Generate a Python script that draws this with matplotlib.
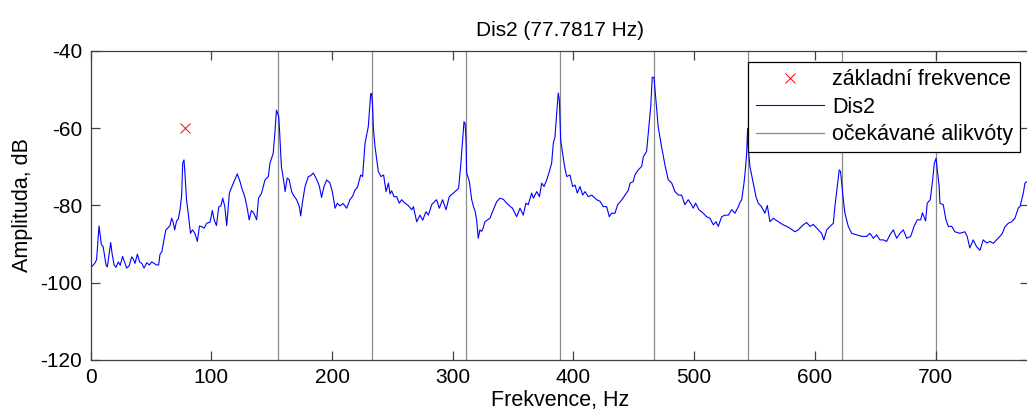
import matplotlib.pyplot as plt

plt.rcParams["font.family"] = ["Liberation Sans", "DejaVu Sans"]
plt.rcParams["axes.unicode_minus"] = False

F0 = 77.7817
HARMONICS = [2, 3, 4, 5, 6, 7, 8, 9, 10]

# spectrum of Dis2, (Hz, dB) pairs, split by band
band_0_150 = [
    (0, -96.2), (3.5, -94.9), (4.9, -94.0), (6.9, -85.3), (8.9, -90.2),
    (10.3, -90.6), (12.7, -95.4), (13.8, -95.9), (16.6, -89.6), (17.7, -92.4),
    (19.4, -95.4), (21.0, -96.0), (22.9, -94.6), (24.5, -95.5), (26.4, -93.2),
    (28.2, -94.8), (29.8, -96.2), (31.8, -95.7), (34.0, -93.3), (35.4, -93.9),
    (36.7, -95.0), (38.7, -92.6), (40.5, -94.6), (42.4, -95.0), (44.2, -96.2),
    (46.5, -94.8), (48.6, -95.4), (50.6, -94.6), (52.5, -95.0), (54.6, -95.4),
    (56.3, -95.4), (57.4, -92.7), (59.0, -91.9), (60.7, -88.9), (62.3, -86.3),
    (64.0, -85.8), (65.7, -85.2), (67.1, -83.3), (68.3, -84.3), (69.6, -86.3),
    (71.2, -84.0), (72.6, -83.5), (74.0, -81.1), (75.4, -77.3), (76.2, -69.1),
    (77.3, -68.2), (78.1, -71.6), (79.4, -78.5), (80.8, -82.0), (82.7, -87.2),
    (84.3, -86.3), (86.3, -87.2), (88.4, -89.3), (90.1, -85.3), (92.1, -85.5),
    (94.0, -85.9), (96.1, -84.6), (98.9, -84.3), (100.8, -81.3), (102.3, -83.7),
    (104.2, -85.2), (106.1, -80.4), (107.9, -80.1), (109.4, -78.1), (111.1, -80.2),
    (112.7, -85.2), (114.9, -76.8), (118.2, -74.2), (121.5, -71.8), (123.7, -73.8),
    (125.6, -75.9), (127.7, -77.7), (129.7, -80.7), (131.3, -83.7), (133.2, -81.3),
    (135.2, -82.0), (137.5, -83.7), (139.1, -78.1), (141.6, -76.8), (144.4, -73.4),
    (147.2, -72.5), (148.5, -69.1),
]
band_150_300 = [
    (151.2, -66.5), (152.6, -61.3), (153.9, -55.3), (154.9, -56.2), (155.8, -57.0),
    (156.6, -61.3), (158.0, -69.9), (160.0, -73.8), (161.1, -76.4), (162.8, -72.9),
    (164.4, -73.3), (166.5, -76.4), (167.9, -77.3), (170.6, -78.5), (172.9, -80.3),
    (174.0, -82.7), (175.6, -78.9), (177.6, -75.1), (180.3, -72.5), (182.2, -72.3),
    (184.4, -71.6), (187.2, -73.2), (189.4, -74.9), (191.3, -77.9), (193.3, -75.1),
    (195.5, -73.4), (198.2, -74.1), (200.2, -76.4), (202.5, -80.7), (204.4, -79.4),
    (206.5, -80.1), (209.2, -79.5), (212.1, -80.7), (214.8, -78.5), (217.0, -77.6),
    (219.0, -76.0), (221.0, -75.3), (223.7, -72.1), (225.3, -72.5), (227.3, -63.9),
    (230.0, -59.6), (232.0, -51.1), (232.8, -51.0), (233.6, -54.4), (234.2, -60.0),
    (235.6, -64.8), (238.3, -71.2), (240.5, -72.5), (242.7, -72.1), (244.7, -76.4),
    (246.7, -74.2), (248.0, -77.0), (249.4, -76.2), (251.3, -77.7), (253.5, -77.7),
    (255.7, -79.4), (257.6, -78.5), (260.4, -79.4), (263.1, -80.0), (266.0, -81.1),
    (267.4, -80.3), (270.1, -84.2), (272.9, -82.5), (275.1, -83.8), (277.8, -81.6),
    (279.8, -82.5), (282.5, -79.8), (285.2, -78.9), (286.6, -78.5), (288.8, -80.7),
    (291.6, -78.5), (294.4, -81.1), (297.1, -77.7),
]
band_300_450 = [
    (300.4, -76.8), (303.2, -76.0), (304.8, -75.6), (306.5, -69.9), (308.2, -63.0),
    (309.3, -58.3), (310.2, -58.7), (311.0, -63.0), (311.5, -71.6), (313.7, -73.7),
    (315.7, -78.5), (317.1, -80.2), (318.5, -81.5), (319.8, -83.7), (321.1, -88.5),
    (322.5, -86.3), (323.9, -86.7), (325.2, -85.9), (326.6, -84.2), (330.8, -83.3),
    (333.6, -81.1), (336.4, -79.0), (339.1, -78.1), (341.9, -78.4), (344.7, -79.4),
    (348.8, -80.6), (349.3, -80.6), (352.9, -82.9), (355.7, -80.7), (358.4, -82.5),
    (360.6, -79.4), (362.5, -79.8), (365.4, -76.8), (366.8, -78.1), (369.6, -76.4),
    (371.8, -77.7), (373.7, -74.2), (375.6, -75.1), (377.8, -73.4), (380.0, -71.2),
    (381.9, -69.1), (383.3, -63.9), (384.7, -62.2), (386.1, -56.1), (387.4, -50.9),
    (388.3, -52.6), (389.4, -63.0), (391.0, -66.5), (392.7, -70.0), (394.4, -72.5),
    (397.1, -72.1), (399.3, -75.1), (401.3, -74.7), (403.2, -76.8), (405.4, -75.1),
    (407.6, -77.3), (409.6, -76.4), (412.3, -77.7), (415.1, -77.3), (419.2, -78.5),
    (422.0, -78.9), (424.7, -80.3), (427.5, -80.3), (429.7, -82.9), (431.6, -82.0),
    (434.4, -82.0), (436.6, -79.8), (440.2, -78.5), (442.7, -77.3), (445.5, -76.0),
    (446.9, -74.2), (449.5, -73.8),
]
band_450_600 = [
    (450.9, -72.1), (453.6, -70.8), (456.5, -69.9), (457.9, -67.4), (460.6, -66.0),
    (462.0, -61.3), (464.0, -54.4), (465.3, -46.8), (466.7, -46.8), (468.3, -52.7),
    (470.2, -59.6), (473.0, -64.8), (475.8, -69.5), (478.5, -73.3), (481.4, -74.2),
    (484.1, -76.4), (486.9, -77.3), (489.6, -77.3), (492.3, -79.8), (495.1, -78.5),
    (497.8, -79.8), (499.3, -80.7), (501.2, -79.4), (504.0, -81.1), (507.5, -82.0),
    (510.3, -82.9), (513.1, -83.3), (515.9, -85.0), (518.1, -84.2), (520.0, -85.4),
    (522.8, -82.9), (525.5, -82.5), (528.3, -82.5), (531.0, -81.1), (533.8, -82.0),
    (536.6, -80.3), (537.7, -79.4), (539.4, -78.5), (541.3, -74.2), (542.4, -70.8),
    (543.5, -66.5), (544.3, -60.0), (545.0, -65.6), (546.2, -69.9), (549.0, -74.2),
    (551.2, -77.7), (553.1, -79.4), (555.8, -80.3), (558.6, -82.0), (560.6, -80.0),
    (562.8, -84.2), (565.6, -83.3), (569.7, -84.2), (573.8, -85.0), (576.6, -85.4),
    (579.4, -85.9), (583.5, -86.8), (586.3, -86.3), (590.4, -85.0), (593.2, -84.4),
    (596.0, -85.4), (598.7, -84.9),
]
band_600_778 = [
    (602.9, -86.3), (605.6, -87.2), (607.5, -88.9), (609.8, -86.3), (612.6, -85.4),
    (615.3, -84.6), (616.6, -80.3), (618.6, -75.1), (620.2, -70.8), (621.3, -71.2),
    (622.5, -75.1), (623.6, -78.5), (624.9, -82.0), (627.7, -85.4), (630.5, -87.2),
    (634.6, -87.6), (638.8, -88.0), (642.9, -88.0), (645.7, -87.2), (648.4, -88.5),
    (651.2, -87.6), (653.9, -88.9), (656.7, -88.9), (659.5, -89.3), (662.2, -87.6),
    (665.0, -86.3), (667.8, -88.5), (670.5, -87.2), (673.3, -86.3), (676.1, -88.5),
    (679.4, -88.0), (682.2, -85.4), (684.9, -83.7), (687.7, -83.7), (689.1, -81.9),
    (691.8, -84.0), (693.1, -79.4), (695.6, -78.5), (697.6, -73.4), (699.0, -69.1),
    (700.4, -67.8), (701.5, -70.9), (703.0, -75.1), (703.6, -79.4), (706.4, -79.8),
    (708.6, -83.7), (710.6, -85.4), (713.4, -85.4), (716.0, -86.8), (720.1, -87.2),
    (724.3, -86.8), (726.2, -88.0), (728.4, -91.0), (731.2, -88.9), (733.9, -90.6),
    (736.8, -91.6), (739.5, -88.9), (742.3, -89.7), (745.1, -89.3), (747.8, -89.8),
    (750.6, -88.9), (753.3, -88.0), (755.4, -87.2), (757.5, -85.5), (760.3, -84.6),
    (763.0, -84.2), (765.8, -83.3), (768.6, -80.6), (770.0, -80.3), (772.7, -76.8),
    (774.1, -74.2), (776.0, -73.8),
]

f0_marker = [F0]
f0_level = [-60]


def main():
    spectrum = band_0_150 + band_150_300 + band_300_450 + band_450_600 + band_600_778
    freq = [p[0] for p in spectrum]
    amp = [p[1] for p in spectrum]

    fig = plt.figure(figsize=(10.27, 4.17), dpi=100)
    ax = fig.add_axes([0.0883, 0.1367, 0.9141, 0.741])

    ax.plot(f0_marker, f0_level, "x", color="#ff0000", markersize=7,
            markeredgewidth=0.7, label="základní frekvence", zorder=3)
    ax.plot(freq, amp, color="#0000ff", linewidth=0.8, label="Dis2", zorder=2)
    for i, k in enumerate(HARMONICS):
        ax.axvline(F0 * k, color="#8c8c8c", linewidth=0.9, zorder=1,
                   label="očekávané alikvóty" if i == 0 else None)

    ax.set_xlim(0, 10 * F0)
    ax.set_ylim(-120, -40)
    ax.set_xticks([0, 100, 200, 300, 400, 500, 600, 700])
    ax.set_yticks([-120, -100, -80, -60, -40])

    ax.set_title("Dis2 (77.7817 Hz)", fontsize=15, pad=11)
    ax.set_xlabel("Frekvence, Hz", fontsize=15.5, labelpad=2)
    ax.set_ylabel("Amplituda, dB", fontsize=15.5, labelpad=5)

    for s in ax.spines.values():
        s.set_color("#404040")
        s.set_linewidth(0.9)
    ax.tick_params(direction="in", length=6.5, width=0.9, color="#404040",
                   labelsize=15, top=True, right=True, pad=6)

    leg = ax.legend(loc="upper right", bbox_to_anchor=(0.99, 0.964),
                    borderaxespad=0, fancybox=False, framealpha=1,
                    edgecolor="black", fontsize=15.5, handlelength=3.2,
                    handletextpad=0.35, labelspacing=0.3, borderpad=0.33)
    leg.get_frame().set_linewidth(0.9)
    leg.set_zorder(5)

    fig.savefig("out.png", dpi=100)


if __name__ == "__main__":
    main()
